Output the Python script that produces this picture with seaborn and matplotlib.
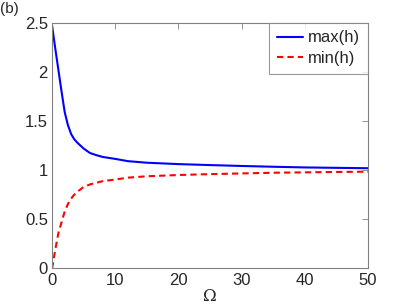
import numpy as np
import pandas as pd
import matplotlib
matplotlib.use("Agg")
import matplotlib.pyplot as plt
import seaborn as sns

# =========================
# DATA
# =========================

omega = [0, 0.5, 1.0, 1.5, 2.0, 2.5, 3.0, 3.5, 4.0, 5.0, 6.0, 7.0, 8.0,
         10, 12, 15, 20, 25, 30, 35, 40, 45, 50]

max_h = [2.47, 2.24, 2.02, 1.80, 1.59, 1.46, 1.37, 1.315, 1.28, 1.22, 1.175,
         1.153, 1.135, 1.115, 1.092, 1.076, 1.062, 1.052, 1.043, 1.035,
         1.028, 1.024, 1.02]

min_h = [0.0, 0.19, 0.36, 0.47, 0.58, 0.655, 0.71, 0.75, 0.78, 0.83, 0.855,
         0.872, 0.888, 0.905, 0.924, 0.938, 0.951, 0.96, 0.967, 0.974,
         0.978, 0.982, 0.985]

series_names = ["max(h)", "min(h)"]
x_ticks = [0, 10, 20, 30, 40, 50]
y_ticks = [0, 0.5, 1, 1.5, 2, 2.5]
y_tick_labels = ["0", "0.5", "1", "1.5", "2", "2.5"]

df = pd.DataFrame({
    "Omega": omega * 2,
    "value": max_h + min_h,
    "series": [series_names[0]] * len(omega) + [series_names[1]] * len(omega),
})

# =========================
# STYLE
# =========================

sns.set_style("white")
plt.rcParams["font.family"] = ["Liberation Sans", "DejaVu Sans"]

fig = plt.figure(figsize=(4.07, 3.05), dpi=100)
ax = fig.add_axes([0.128, 0.12, 0.776, 0.805])

sns.lineplot(
    data=df,
    x="Omega",
    y="value",
    hue="series",
    style="series",
    palette={"max(h)": "#0000ff", "min(h)": "#ff0000"},
    dashes={"max(h)": "", "min(h)": (3, 2)},
    linewidth=1.5,
    ax=ax,
)

ax.set_xlim(0, 50)
ax.set_ylim(0, 2.5)
ax.set_xticks(x_ticks)
ax.set_yticks(y_ticks)
ax.set_yticklabels(y_tick_labels)
ax.tick_params(direction="in", length=4, width=0.6, color="#808080",
               labelsize=12, top=True, right=True, pad=3)
for s in ax.spines.values():
    s.set_color("#808080")
    s.set_linewidth(0.8)

ax.set_xlabel("Ω", family="DejaVu Serif", fontsize=12, labelpad=0)
ax.set_ylabel("")

leg = ax.legend(loc="upper right", fontsize=12, frameon=True, fancybox=False,
                handlelength=1.6, handletextpad=0.3, borderpad=0.45,
                labelspacing=0.35, borderaxespad=0.0)
leg.get_frame().set_edgecolor("#808080")
leg.get_frame().set_linewidth(0.8)

fig.text(0.0, 0.995, "(b)", fontsize=11, ha="left", va="top")

fig.savefig("out.png", dpi=100)
